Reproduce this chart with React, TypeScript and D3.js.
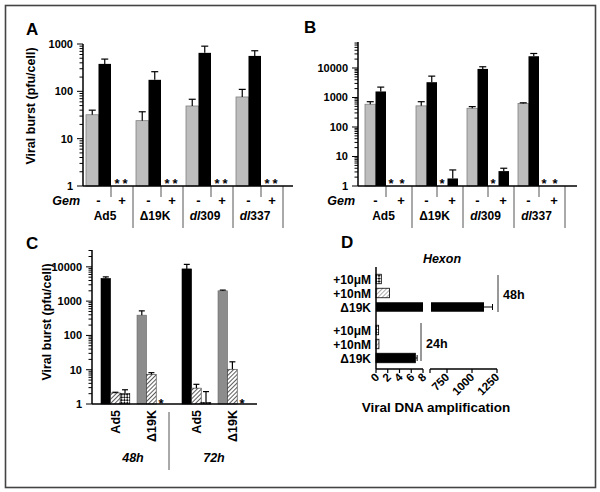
import React from 'react';
import * as d3 from 'd3';

const FONT = "'Liberation Sans', Arial, Helvetica, sans-serif";

// ---------- Panels A & B ----------
const strains = ['Ad5', 'Δ19K', 'dl309', 'dl337'];
const aTicks = [1, 10, 100, 1000];
const aGray = [32, 24, 49, 76];
const aGrayErr = [40, 37, 68, 110];
const aBlack = [380, 175, 650, 560];
const aBlackErr = [480, 260, 900, 720];
const aGemBlack: (number | null)[] = [null, null, null, null];
const aGemBlackErr: (number | null)[] = [null, null, null, null];

const bTicks = [1, 10, 100, 1000, 10000];
const bGray = [590, 520, 430, 630];
const bGrayErr = [720, 720, 490, 660];
const bBlack = [1600, 3300, 9300, 25000];
const bBlackErr = [2250, 5300, 11000, 31000];
const bGemBlack: (number | null)[] = [null, 1.8, 3.2, null];
const bGemBlackErr: (number | null)[] = [null, 3.5, 4.0, null];

// ---------- Panel C ----------
const cTimes = ['48h', '72h'];
const cStrains = ['Ad5', 'Δ19K'];
const cTicks = [1, 10, 100, 1000, 10000];
// order: 48h Ad5, 48h Δ19K, 72h Ad5, 72h Δ19K
const cUntreated = [4600, 390, 8700, 2000];
const cUntreatedErr = [5100, 520, 11800, 2100];
const cNM = [2.1, 7.3, 2.9, 10.3];
const cNMErr = [2.2, 8.2, 3.75, 17];
const cUM: (number | null)[] = [2.05, null, 1.12, null];
const cUMErr: (number | null)[] = [2.6, null, 2.3, null];

// ---------- Panel D ----------
const dTimes = ['48h', '24h'];
const dRows = ['+10μM', '+10nM', 'Δ19K'];
const d48 = [0.9, 2.3, 1120];
const d48Err: (number | null)[] = [null, null, 1205];
const d24 = [0.45, 0.5, 6.7];
const d24Err: (number | null)[] = [null, null, 7.0];
const dTicksLow = [0, 2, 4, 6, 8];
const dTicksHigh = [750, 1000, 1250];

function logMinor(domain: [number, number]) {
  const out: number[] = [];
  for (let d = 1; d <= domain[1]; d *= 10) {
    for (let i = 1; i <= 9; i++) {
      const v = d * i;
      if (v >= domain[0] && v <= domain[1]) out.push(v);
    }
  }
  return out;
}

function LogYAxis({ scale, x, ticks, fontSize = 11 }: any) {
  const dom = scale.domain() as [number, number];
  const minors = logMinor(dom);
  const r = scale.range();
  return (
    <g>
      <line x1={x} x2={x} y1={r[0]} y2={r[1]} stroke="#000" strokeWidth={1.5} />
      {minors.map((v: number, i: number) => {
        const major = ticks.includes(v);
        return (
          <line key={i} x1={x - (major ? 6 : 3.5)} x2={x} y1={scale(v)} y2={scale(v)} stroke="#000" strokeWidth={1} />
        );
      })}
      {ticks.map((v: number) => (
        <text key={v} x={x - 10} y={scale(v) + 4} textAnchor="end" fontSize={fontSize} fontWeight="bold" fontFamily={FONT}>
          {v}
        </text>
      ))}
    </g>
  );
}

function ErrBar({ x, y1, y2, cap }: any) {
  return (
    <g stroke="#000" strokeWidth={1.2}>
      <line x1={x} x2={x} y1={y1} y2={y2} />
      <line x1={x - cap / 2} x2={x + cap / 2} y1={y2} y2={y2} />
    </g>
  );
}

function Star({ x, y }: any) {
  return (
    <text x={x} y={y} textAnchor="middle" fontSize={13} fontWeight="bold" fontFamily={FONT} fill="#000">*</text>
  );
}

function StrainLabel({ name, x, y }: any) {
  if (name.startsWith('dl')) {
    return (
      <text x={x} y={y} textAnchor="middle" fontSize={12} fontWeight="bold" fontFamily={FONT}>
        <tspan fontStyle="italic">dl</tspan>
        {name.slice(2)}
      </text>
    );
  }
  return (
    <text x={x} y={y} textAnchor="middle" fontSize={12} fontWeight="bold" fontFamily={FONT}>
      {name}
    </text>
  );
}

function PanelAB(p: any) {
  const { letter, letterX, letterY, axisX, axisEnd, range, yScale, ticks, gray, grayErr, black, blackErr, gemBlack, gemBlackErr, pad, bw, starGray, starBlack, plusX, cap, yLabel } = p;
  const xb = d3.scaleBand().domain(strains).range(range);
  const y0 = yScale.range()[0];
  return (
    <g>
      <text x={letterX} y={letterY} fontSize={17} fontWeight="bold" fontFamily={FONT}>{letter}</text>
      {yLabel && (
        <text transform={`translate(${yLabel[0]},${yLabel[1]}) rotate(-90)`} textAnchor="middle" fontSize={12.5} fontWeight="bold" fontFamily={FONT}>
          Viral burst (pfu/cell)
        </text>
      )}
      {strains.map((s, i) => {
        const g = xb(s)!;
        return (
          <g key={s}>
            <rect x={g + pad} y={yScale(gray[i])} width={bw} height={y0 - yScale(gray[i])} fill="#bdbdbd" stroke="#808080" strokeWidth={0.8} />
            <rect x={g + pad + bw} y={yScale(black[i])} width={bw} height={y0 - yScale(black[i])} fill="#000" />
            <ErrBar x={g + pad + bw / 2} y1={yScale(gray[i])} y2={yScale(grayErr[i])} cap={cap} />
            <ErrBar x={g + pad + bw * 1.5} y1={yScale(black[i])} y2={yScale(blackErr[i])} cap={cap} />
            <Star x={g + starGray} y={y0 + 2} />
            {gemBlack[i] == null ? (
              <Star x={g + starBlack} y={y0 + 2} />
            ) : (
              <g>
                <rect x={g + pad + bw * 3} y={yScale(gemBlack[i])} width={bw} height={y0 - yScale(gemBlack[i])} fill="#000" />
                <ErrBar x={g + pad + bw * 3.5} y1={yScale(gemBlack[i])} y2={yScale(gemBlackErr[i])} cap={cap} />
              </g>
            )}
            <line x1={g + pad + bw * 2} x2={g + pad + bw * 2} y1={y0} y2={y0 + 11} stroke="#555" strokeWidth={1} />
            <line x1={g + xb.bandwidth()} x2={g + xb.bandwidth()} y1={y0} y2={y0 + 42} stroke="#555" strokeWidth={1} />
            <text x={g + pad + bw} y={y0 + 19} textAnchor="middle" fontSize={13} fontWeight="bold" fontFamily={FONT}>-</text>
            <text x={g + plusX} y={y0 + 19} textAnchor="middle" fontSize={13} fontWeight="bold" fontFamily={FONT}>+</text>
            <StrainLabel name={s} x={g + xb.bandwidth() / 2 - 3} y={y0 + 34} />
          </g>
        );
      })}
      <text x={axisX - 3} y={y0 + 19} textAnchor="end" fontSize={12.5} fontWeight="bold" fontStyle="italic" fontFamily={FONT}>Gem</text>
      <line x1={axisX} x2={axisEnd} y1={y0} y2={y0} stroke="#000" strokeWidth={1.5} />
      <LogYAxis scale={yScale} x={axisX} ticks={ticks} />
    </g>
  );
}

function PanelC() {
  const yScale = d3.scaleLog().domain([1, 31000]).range([404, 250]);
  const xt = d3.scaleBand().domain(cTimes).range([101, 263]);
  const xs = d3.scaleBand().domain(cStrains).range([0, 72]);
  const bw = 9.6;
  const y0 = 404;
  return (
    <g>
      <text x={26} y={249} fontSize={17} fontWeight="bold" fontFamily={FONT}>C</text>
      <text transform={`translate(51,322) rotate(-90)`} textAnchor="middle" fontSize={12.5} fontWeight="bold" fontFamily={FONT}>
        Viral burst (pfu/cell)
      </text>
      {cTimes.map((t, ti) => (
        <g key={t}>
          {cStrains.map((s, si) => {
            const idx = ti * 2 + si;
            const g = xt(t)! + xs(s)!;
            const um = cUM[idx];
            const umErr = cUMErr[idx];
            return (
              <g key={s}>
                <rect x={g} y={yScale(cUntreated[idx])} width={bw} height={y0 - yScale(cUntreated[idx])} fill={s === 'Ad5' ? '#000' : '#8c8c8c'} stroke={s === 'Ad5' ? '#000' : '#6a6a6a'} strokeWidth={0.6} />
                <ErrBar x={g + bw / 2} y1={yScale(cUntreated[idx])} y2={yScale(cUntreatedErr[idx])} cap={6} />
                <rect x={g + bw} y={yScale(cNM[idx])} width={bw} height={y0 - yScale(cNM[idx])} fill="url(#hatchDark)" stroke="#333" strokeWidth={0.6} />
                <ErrBar x={g + bw * 1.5} y1={yScale(cNM[idx])} y2={yScale(cNMErr[idx])} cap={6} />
                {um == null ? (
                  <Star x={g + bw * 2.5} y={y0 + 4} />
                ) : (
                  <g>
                    <rect x={g + bw * 2} y={yScale(um)} width={bw} height={y0 - yScale(um)} fill="url(#checker)" stroke="#000" strokeWidth={0.6} />
                    <ErrBar x={g + bw * 2.5} y1={yScale(um)} y2={yScale(umErr!)} cap={6} />
                  </g>
                )}
                <text transform={`translate(${g + bw * 1.5 + 5},${y0 + 6}) rotate(-90)`} textAnchor="end" fontSize={12.5} fontWeight="bold" fontFamily={FONT}>
                  {s}
                </text>
              </g>
            );
          })}
          <text x={xt(t)! + 32} y={462} textAnchor="middle" fontSize={12.5} fontWeight="bold" fontStyle="italic" fontFamily={FONT}>{t}</text>
        </g>
      ))}
      <line x1={169} x2={169} y1={412} y2={470} stroke="#555" strokeWidth={1} />
      <line x1={92} x2={257} y1={y0} y2={y0} stroke="#000" strokeWidth={1.5} />
      <LogYAxis scale={yScale} x={92} ticks={cTicks} />
    </g>
  );
}

function PanelD() {
  const axisY = 369;
  const x0 = 376;
  const xLow = d3.scaleLinear().domain([0, 8]).range([376, 423]);
  const xHigh = d3.scaleLinear().domain([580, 1250]).range([430, 497]);
  const yt = d3.scaleBand().domain(dTimes).range([272, 374]);
  const yr = d3.scaleBand().domain(dRows).range([0, 42]);
  const bh = 9.5;
  const fills = ['url(#checker)', 'url(#hatchLight)', '#000'];
  const series: Record<string, { v: number[]; e: (number | null)[] }> = {
    '48h': { v: d48, e: d48Err },
    '24h': { v: d24, e: d24Err },
  };
  const xOf = (v: number) => (v <= 8 ? xLow(v) : xHigh(v));
  return (
    <g fontFamily={FONT} fontWeight="bold">
      <text x={341} y={248} fontSize={17}>D</text>
      <text x={442} y={263} textAnchor="middle" fontSize={12.5} fontStyle="italic">Hexon</text>
      {dTimes.map((t) => {
        const base = yt(t)!;
        const s = series[t];
        const firstY = base + yr(dRows[0])!;
        const lastY = base + yr(dRows[2])! + yr.bandwidth();
        return (
          <g key={t}>
            {dRows.map((r, i) => {
              const cy = base + yr(r)! + yr.bandwidth() / 2;
              const v = s.v[i];
              const e = s.e[i];
              return (
                <g key={r}>
                  <text x={371} y={cy + 4.5} textAnchor="end" fontSize={12}>{r}</text>
                  {v > 8 ? (
                    <g>
                      <rect x={x0} y={cy - bh / 2} width={xLow(8) - x0} height={bh} fill={fills[i]} />
                      <rect x={xHigh(580) + 1} y={cy - bh / 2} width={xHigh(v) - xHigh(580) - 1} height={bh} fill={fills[i]} />
                    </g>
                  ) : (
                    <rect x={x0} y={cy - bh / 2} width={xLow(v) - x0} height={bh} fill={fills[i]} stroke="#000" strokeWidth={0.8} />
                  )}
                  {e != null && (
                    <g stroke="#000" strokeWidth={1}>
                      <line x1={xOf(v)} x2={xOf(e)} y1={cy} y2={cy} />
                      <line x1={xOf(e)} x2={xOf(e)} y1={cy - 3} y2={cy + 3} />
                    </g>
                  )}
                </g>
              );
            })}
            {t === '48h' ? (
              <g>
                <line x1={498} x2={498} y1={firstY + 3} y2={lastY - 2} stroke="#333" strokeWidth={1} />
                <text x={503} y={299} fontSize={12.5}>48h</text>
              </g>
            ) : (
              <g>
                <line x1={421} x2={421} y1={firstY} y2={lastY - 4} stroke="#333" strokeWidth={1} />
                <text x={426} y={348} fontSize={12.5}>24h</text>
              </g>
            )}
          </g>
        );
      })}
      <line x1={x0} x2={x0} y1={267} y2={axisY} stroke="#000" strokeWidth={1.5} />
      <line x1={x0} x2={xLow(8)} y1={axisY} y2={axisY} stroke="#000" strokeWidth={1.5} />
      <line x1={xHigh(580)} x2={xHigh(1250)} y1={axisY} y2={axisY} stroke="#000" strokeWidth={1.5} />
      <line x1={xHigh(580)} x2={xHigh(580)} y1={axisY} y2={axisY + 4} stroke="#000" strokeWidth={1.2} />
      {dTicksLow.map((v) => (
        <g key={v}>
          <line x1={xLow(v)} x2={xLow(v)} y1={axisY} y2={axisY + 4} stroke="#000" strokeWidth={1.2} />
          <text transform={`translate(${xLow(v) + 4},${axisY + 9}) rotate(-45)`} textAnchor="end" fontSize={11.5}>{v}</text>
        </g>
      ))}
      {dTicksHigh.map((v) => (
        <g key={v}>
          <line x1={xHigh(v)} x2={xHigh(v)} y1={axisY} y2={axisY + 4} stroke="#000" strokeWidth={1.2} />
          <text transform={`translate(${xHigh(v) + 3},${axisY + 9}) rotate(-45)`} textAnchor="end" fontSize={11.5}>{v}</text>
        </g>
      ))}
      <text x={436} y={412} textAnchor="middle" fontSize={13.5}>Viral DNA amplification</text>
    </g>
  );
}

export default function App() {
  const yA = d3.scaleLog().domain([1, 1000]).range([186, 44]);
  const yB = d3.scaleLog().domain([1, 76000]).range([186, 42]);
  return (
    <svg width={600} height={492} style={{ position: 'absolute', left: 0, top: 0, display: 'block', background: '#fff' }}>
      <defs>
        <pattern id="hatchDark" width={3} height={3} patternUnits="userSpaceOnUse" patternTransform="rotate(45)">
          <rect width={3} height={3} fill="#fff" />
          <line x1={0} y1={0} x2={0} y2={3} stroke="#333" strokeWidth={1.6} />
        </pattern>
        <pattern id="hatchLight" width={3} height={3} patternUnits="userSpaceOnUse" patternTransform="rotate(45)">
          <rect width={3} height={3} fill="#fff" />
          <line x1={0} y1={0} x2={0} y2={3} stroke="#666" strokeWidth={1.1} />
        </pattern>
        <pattern id="checker" width={4} height={4} patternUnits="userSpaceOnUse" patternTransform="rotate(45)">
          <rect width={4} height={4} fill="#fff" />
          <rect width={2} height={2} fill="#111" />
          <rect x={2} y={2} width={2} height={2} fill="#111" />
        </pattern>
      </defs>
      <rect x={0} y={0} width={600} height={492} fill="#fff" />
      <rect x={5.5} y={5.5} width={590} height={482} fill="none" stroke="#444" strokeWidth={1.6} />
      <PanelAB letter="A" letterX={26} letterY={35} axisX={83} axisEnd={293} range={[83, 283]} yScale={yA} ticks={aTicks}
        gray={aGray} grayErr={aGrayErr} black={aBlack} blackErr={aBlackErr} gemBlack={aGemBlack} gemBlackErr={aGemBlackErr}
        pad={3} bw={12.5} starGray={34} starBlack={42} plusX={39} cap={7} yLabel={[35, 106]} />
      <PanelAB letter="B" letterX={304} letterY={33} axisX={358} axisEnd={577} range={[361, 565]} yScale={yB} ticks={bTicks}
        gray={bGray} grayErr={bGrayErr} black={bBlack} blackErr={bBlackErr} gemBlack={bGemBlack} gemBlackErr={bGemBlackErr}
        pad={4} bw={10.5} starGray={30} starBlack={41} plusX={40} cap={7} yLabel={null} />
      <PanelC />
      <PanelD />
    </svg>
  );
}
